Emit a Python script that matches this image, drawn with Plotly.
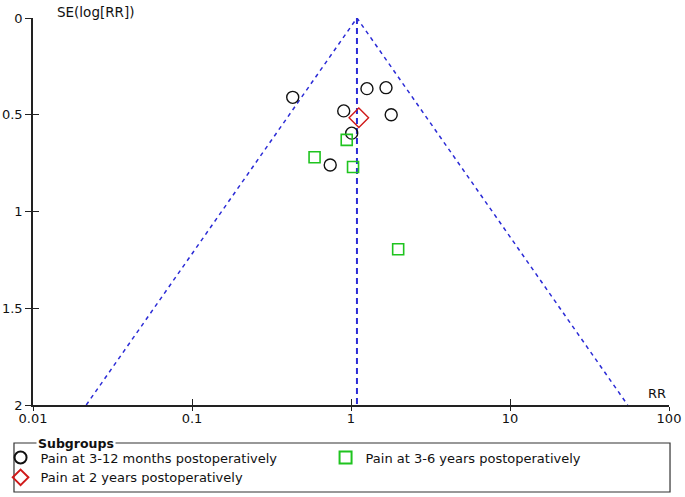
import numpy as np
import plotly.graph_objects as go

# ---- data ----
pooled_rr = 1.09
se_max = 2.0

g1_name = "Pain at 3-12 months postoperatively"
g1_rr = [0.43, 0.90, 1.26, 1.66, 1.79, 1.01, 0.74]
g1_se = [0.41, 0.48, 0.365, 0.36, 0.50, 0.595, 0.76]

g2_name = "Pain at 3-6 years postoperatively"
g2_rr = [0.94, 0.59, 1.03, 1.98]
g2_se = [0.63, 0.72, 0.77, 1.195]

g3_name = "Pain at 2 years postoperatively"
g3_rr = [1.12]
g3_se = [0.515]

x_tickvals = [0.01, 0.1, 1, 10, 100]
x_ticktext = ["0.01", "0.1", "1", "10", "100"]
y_tickvals = [0, 0.5, 1, 1.5, 2]
y_ticktext = ["0", "0.5", "1", "1.5", "2"]

FONT = "DejaVu Sans"
BLUE = "#2b2bd6"

fig = go.Figure()

# funnel lines
lo = float(np.exp(np.log(pooled_rr) - 1.96 * se_max))
hi = float(np.exp(np.log(pooled_rr) + 1.96 * se_max))
fig.add_trace(go.Scatter(x=[lo, pooled_rr, hi], y=[se_max, 0, se_max], mode="lines",
                         line=dict(color=BLUE, width=1.5, dash="4px,4px"),
                         showlegend=False, hoverinfo="skip"))
fig.add_trace(go.Scatter(x=[pooled_rr, pooled_rr], y=[0, se_max], mode="lines",
                         line=dict(color=BLUE, width=2, dash="6px,4px"),
                         showlegend=False, hoverinfo="skip"))

fig.add_trace(go.Scatter(x=g1_rr, y=g1_se, mode="markers", name=g1_name,
                         marker=dict(symbol="circle-open", size=12, color="#111111",
                                     line=dict(width=1.4))))
fig.add_trace(go.Scatter(x=g2_rr, y=g2_se, mode="markers", name=g2_name,
                         marker=dict(symbol="square-open", size=11, color="#1fc41f",
                                     line=dict(width=1.6))))
fig.add_trace(go.Scatter(x=g3_rr, y=g3_se, mode="markers", name=g3_name,
                         marker=dict(symbol="diamond-open", size=15, color="#d01a1a",
                                     line=dict(width=1.4))))

axis_common = dict(showgrid=False, zeroline=False, showline=True, linecolor="#222222",
                   linewidth=1.5, tickcolor="#222222", tickwidth=1.2, automargin=False,
                   tickfont=dict(family=FONT, size=13, color="#111111"))

fig.update_layout(
    width=685, height=497,
    margin=dict(l=33, r=16, t=18, b=92, autoexpand=False),
    paper_bgcolor="white", plot_bgcolor="white",
    font=dict(family=FONT, size=13, color="#111111"),
    xaxis=dict(type="log", range=[-2, 2], tickvals=x_tickvals, ticktext=x_ticktext,
               ticks="outside", ticklen=4, ticklabelstandoff=-3, **axis_common),
    yaxis=dict(range=[2, 0], tickvals=y_tickvals, ticktext=y_ticktext,
               ticks="outside", ticklen=6, **axis_common),
    xaxis2=dict(type="log", range=[-2, 2], tickvals=x_tickvals, overlaying="x",
                anchor="y", side="bottom", ticks="inside", ticklen=6,
                showticklabels=False, showgrid=False, zeroline=False,
                tickcolor="#222222", tickwidth=1.2),
    yaxis2=dict(range=[2, 0], tickvals=y_tickvals, overlaying="y", anchor="x",
                side="left", ticks="inside", ticklen=6, showticklabels=False,
                showgrid=False, zeroline=False, tickcolor="#222222", tickwidth=1.2),
    showlegend=True,
    legend=dict(orientation="h", x=-0.051, xanchor="left", y=-0.0969, yanchor="top",
                entrywidth=280, entrywidthmode="pixels", bgcolor="rgba(0,0,0,0)",
                font=dict(family=FONT, size=13, color="#111111"),
                itemsizing="constant", traceorder="normal", tracegroupgap=0),
    shapes=[dict(type="rect", xref="paper", yref="paper",
                 x0=-0.0299, x1=1.0016, y0=-0.2248, y1=-0.0982,
                 line=dict(color="#333333", width=1.2), fillcolor="rgba(0,0,0,0)")],
    annotations=[
        dict(text="SE(log[RR])", xref="paper", yref="paper", x=0.034, y=1.016,
             xanchor="left", yanchor="middle", showarrow=False,
             font=dict(family=FONT, size=13.5, color="#111111")),
        dict(text="RR", xref="paper", yref="paper", x=0.999, y=0.03,
             xanchor="right", yanchor="middle", showarrow=False,
             font=dict(family=FONT, size=13, color="#111111")),
        dict(text="<b>Subgroups</b>", xref="paper", yref="paper", x=0.005, y=-0.0982,
             xanchor="left", yanchor="middle", showarrow=False, bgcolor="white",
             borderpad=1, font=dict(family=FONT, size=12.5, color="#111111")),
    ],
)

# dummy trace to activate overlay axes
fig.add_trace(go.Scatter(x=[1], y=[1], xaxis="x2", yaxis="y2", mode="markers",
                         marker=dict(opacity=0), showlegend=False, hoverinfo="skip"))

fig.write_html("out.html", config={"displayModeBar": False},
               post_script="document.body.style.margin='0';document.body.style.padding='0';")
